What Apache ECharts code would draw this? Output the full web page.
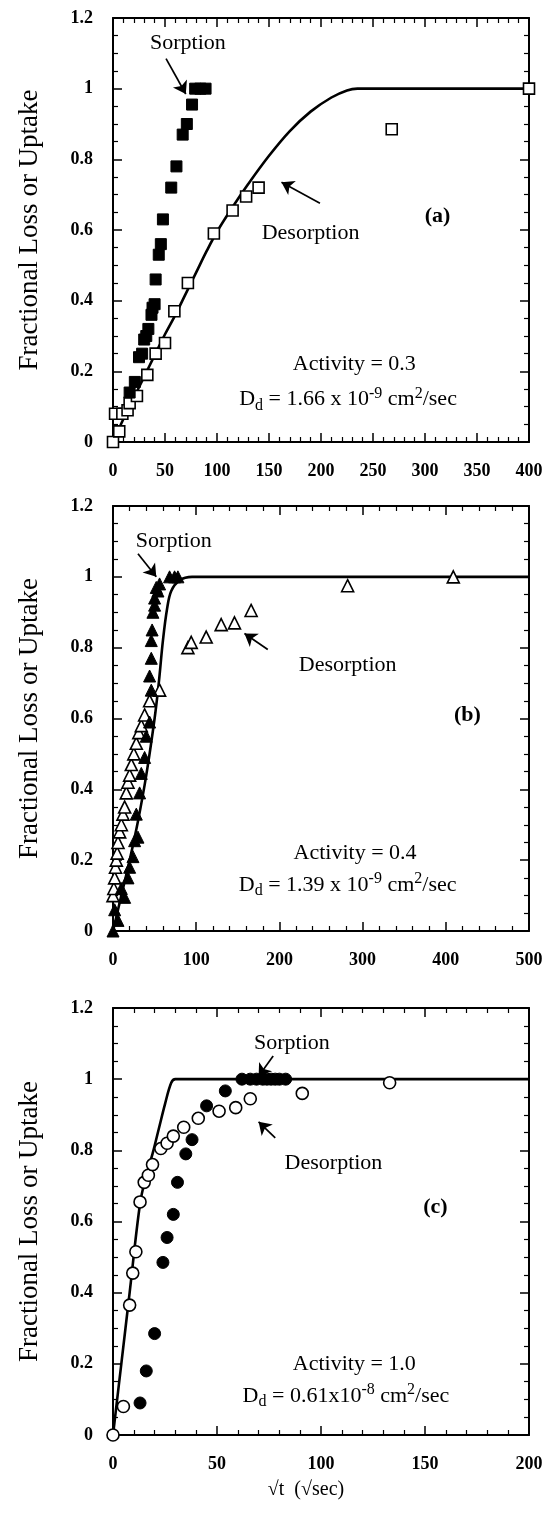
<!DOCTYPE html>
<html>
<head>
<meta charset="utf-8">
<script src="https://cdn.jsdelivr.net/npm/echarts@6/dist/echarts.min.js"></script>
<style>
  html, body { margin: 0; padding: 0; background: #fff; }
  #chart { width: 547px; height: 1516px; }
</style>
</head>
<body>
<div id="chart"></div>
<script>
// ---- Panel (a): activity 0.3, squares ----
const sorptionA = [[16,0.14],[21,0.17],[25,0.24],[28,0.25],[30,0.29],[32,0.3],[34,0.32],[37,0.36],[38,0.38],[40,0.39],
  [41,0.46],[44,0.53],[46,0.56],[48,0.63],[56,0.72],[61,0.78],[67,0.87],[71,0.9],[76,0.955],[79,1.0],[84,1.0],[89,1.0]];
const desorptionA = [[0,0],[2,0.08],[6,0.03],[9,0.08],[14,0.09],[16,0.11],[23,0.13],[33,0.19],[41,0.25],[50,0.28],
  [59,0.37],[72,0.45],[97,0.59],[115,0.655],[128,0.695],[140,0.72],[268,0.885],[400,1.0]];
const fitA = [[0,0],[10,0.065],[20,0.125],[30,0.185],[40,0.245],[50,0.305],[60,0.36],[70,0.42],[80,0.48],[90,0.54],
  [100,0.595],[115,0.665],[130,0.73],[150,0.81],[170,0.88],[190,0.935],[210,0.975],[225,0.995],[235,1.0],[400,1.0]];

// ---- Panel (b): activity 0.4, triangles ----
const sorptionB = [[0,0],[2,0.06],[6,0.03],[10,0.12],[14,0.095],[18,0.15],[20,0.18],[24,0.21],[26,0.255],[30,0.265],
  [28,0.33],[32,0.39],[34,0.445],[38,0.49],[40,0.55],[44,0.59],[46,0.68],[44,0.72],[46,0.77],[46,0.82],[47,0.85],
  [48,0.9],[50,0.92],[50,0.94],[52,0.97],[54,0.96],[56,0.98],[68,1.0],[74,1.0],[78,1.0]];
const desorptionB = [[0,0.1],[1,0.12],[2,0.15],[3,0.18],[4,0.2],[5,0.22],[6,0.25],[8,0.28],[10,0.3],[12,0.33],
  [14,0.35],[16,0.39],[18,0.42],[20,0.44],[22,0.47],[25,0.5],[28,0.53],[31,0.56],[34,0.58],[38,0.61],[44,0.65],
  [56,0.68],[90,0.8],[94,0.815],[112,0.83],[130,0.865],[146,0.87],[166,0.905],[282,0.975],[409,1.0]];
const fitB = [[0,0],[10,0.1],[20,0.2],[30,0.31],[40,0.44],[50,0.6],[55,0.7],[60,0.82],[65,0.91],[70,0.96],
  [80,0.99],[95,1.0],[500,1.0]];

// ---- Panel (c): activity 1.0, circles ----
const sorptionC = [[13,0.09],[16,0.18],[20,0.285],[24,0.485],[26,0.555],[29,0.62],[31,0.71],[35,0.79],[38,0.83],
  [45,0.925],[54,0.967],[62,1.0],[66,1.0],[69,1.0],[72,1.0],[74,1.0],[76,1.0],[78,1.0],[80,1.0],[83,1.0]];
const desorptionC = [[0,0],[5,0.08],[8,0.365],[9.5,0.455],[11,0.515],[13,0.655],[15,0.71],[17,0.73],[19,0.76],
  [23,0.805],[26,0.82],[29,0.84],[34,0.865],[41,0.89],[51,0.91],[59,0.92],[66,0.945],[91,0.96],[133,0.99]];
const fitC = [[0,0],[4,0.2],[8,0.4],[13,0.65],[16,0.73],[19,0.79],[22,0.86],[25,0.93],[28,0.99],[30,1.0],[200,1.0]];

// ---- Axis ranges and tick steps ----
const xMaxes = [400, 500, 200];
const xSteps = [50, 100, 50];

// ---- Annotation texts ----
const activityText = ['Activity = 0.3', 'Activity = 0.4', 'Activity = 1.0'];
const diffMantissa = ['1.66 x 10', '1.39 x 10', '0.61x10'];
const diffExponent = ['-9', '-9', '-8'];
const panelTags = ['(a)', '(b)', '(c)'];
const yTitle = 'Fractional Loss or Uptake';
const xTitle = '\u221At  (\u221Asec)';

const FONT = '"Liberation Serif", "Times New Roman", Times, serif';

// Layout of the three plotting frames (pixels)
const frames = [
  { top: 18, height: 424 },
  { top: 506, height: 425 },
  { top: 1008, height: 427 }
];
const LEFT = 113, RIGHT = 18;

// Annotation placement in data coordinates
const notes = [
  { sorp: [72, 1.13], sorpArrow: [[51, 1.085], [70, 0.985]],
    desorp: [190, 0.59], desorpArrow: [[199, 0.676], [162, 0.735]],
    tag: [312, 0.64], act: [232, 0.22], dd: [226, 0.12] },
  { sorp: [73, 1.1], sorpArrow: [[30, 1.065], [52, 1.0]],
    desorp: [282, 0.75], desorpArrow: [[186, 0.795], [158, 0.84]],
    tag: [426, 0.61], act: [291, 0.22], dd: [282, 0.13] },
  { sorp: [86, 1.1], sorpArrow: [[77, 1.065], [70, 1.008]],
    desorp: [106, 0.765], desorpArrow: [[78, 0.835], [70, 0.88]],
    tag: [155, 0.64], act: [116, 0.2], dd: [112, 0.11] }
];

const symbols = ['rect', 'triangle', 'circle'];
const symbolSizes = [11, 12, 12];
const sorptionSets = [sorptionA, sorptionB, sorptionC];
const desorptionSets = [desorptionA, desorptionB, desorptionC];
const fitSets = [fitA, fitB, fitC];

const chart = echarts.init(document.getElementById('chart'), null, { renderer: 'canvas' });

const grids = [], xAxes = [], yAxes = [], series = [];

const axisLine = { show: true, onZero: false, lineStyle: { color: '#000', width: 2 } };

frames.forEach((f, i) => {
  grids.push({ left: LEFT, right: RIGHT, top: f.top, height: f.height, containLabel: false });
  const xBase = {
    gridIndex: i, type: 'value', min: 0, max: xMaxes[i], interval: xSteps[i],
    axisLine, splitLine: { show: false },
    axisTick: { show: true, inside: true, length: 9, lineStyle: { color: '#000', width: 1.5 } },
    minorTick: { show: true, splitNumber: 5, length: 5, lineStyle: { color: '#000', width: 1.2 } },
    minorSplitLine: { show: false }
  };
  xAxes.push(Object.assign({}, xBase, {
    position: 'bottom',
    axisLabel: { show: true, margin: 20, color: '#000', fontFamily: FONT, fontWeight: 'bold', fontSize: 18 }
  }));
  xAxes.push(Object.assign({}, xBase, { position: 'top', axisLabel: { show: false } }));

  const yBase = {
    gridIndex: i, type: 'value', min: 0, max: 1.2, interval: 0.2,
    axisLine, splitLine: { show: false },
    axisTick: { show: true, inside: true, length: 9, lineStyle: { color: '#000', width: 1.5 } },
    minorTick: { show: true, splitNumber: 4, length: 5, lineStyle: { color: '#000', width: 1.2 } },
    minorSplitLine: { show: false }
  };
  yAxes.push(Object.assign({}, yBase, {
    position: 'left',
    axisLabel: { show: true, margin: 20, color: '#000', fontFamily: FONT, fontWeight: 'bold', fontSize: 18,
      formatter: v => String(Math.round(v * 10) / 10) }
  }));
  yAxes.push(Object.assign({}, yBase, { position: 'right', axisLabel: { show: false } }));

  const xi = 2 * i, yi = 2 * i;

  // model curve
  series.push({
    type: 'line', xAxisIndex: xi, yAxisIndex: yi, data: fitSets[i], smooth: 0.35,
    showSymbol: false, symbol: 'none', lineStyle: { color: '#000', width: 2.6 }, z: 2, silent: true
  });
  // desorption (open markers)
  series.push({
    type: 'scatter', xAxisIndex: xi, yAxisIndex: yi, data: desorptionSets[i],
    symbol: symbols[i], symbolSize: symbolSizes[i],
    itemStyle: { color: '#fff', borderColor: '#000', borderWidth: 1.6, opacity: 1 }, z: 3, silent: true
  });
  // sorption (filled markers)
  series.push({
    type: 'scatter', xAxisIndex: xi, yAxisIndex: yi, data: sorptionSets[i],
    symbol: symbols[i], symbolSize: symbolSizes[i],
    itemStyle: { color: '#000', borderColor: '#000', borderWidth: 1, opacity: 1 }, z: 4, silent: true
  });
  // pointer arrows
  series.push({
    type: 'lines', coordinateSystem: 'cartesian2d', xAxisIndex: xi, yAxisIndex: yi,
    symbol: ['none', 'arrow'], symbolSize: [0, 12],
    lineStyle: { color: '#000', width: 1.7, opacity: 1 },
    data: [{ coords: notes[i].sorpArrow }, { coords: notes[i].desorpArrow }], z: 5, silent: true
  });
});

chart.setOption({
  animation: false,
  backgroundColor: '#fff',
  grid: grids, xAxis: xAxes, yAxis: yAxes, series
});

// Text annotations placed from data coordinates
const graphics = [];
const txt = (x, y, text, size, weight) => ({
  type: 'text', x, y, z: 10,
  style: { text, fill: '#000', font: `${weight || 'normal'} ${size}px ${FONT}`, align: 'center', verticalAlign: 'middle' }
});

frames.forEach((f, i) => {
  const toPx = p => chart.convertToPixel({ xAxisIndex: 2 * i, yAxisIndex: 2 * i }, p);
  const n = notes[i];
  let p = toPx(n.sorp); graphics.push(txt(p[0], p[1], 'Sorption', 22));
  p = toPx(n.desorp); graphics.push(txt(p[0], p[1], 'Desorption', 22));
  p = toPx(n.tag); graphics.push(txt(p[0], p[1], panelTags[i], 22, 'bold'));
  p = toPx(n.act); graphics.push(txt(p[0], p[1], activityText[i], 22));
  p = toPx(n.dd);
  graphics.push({
    type: 'text', x: p[0], y: p[1], z: 10,
    style: {
      text: `{m|D}{s|d}{m| = ${diffMantissa[i]}}{p|${diffExponent[i]}}{m| cm}{p|2}{m|/sec}`,
      align: 'center', verticalAlign: 'middle', fill: '#000',
      rich: {
        m: { fontFamily: FONT, fontSize: 22, lineHeight: 28, fill: '#000', verticalAlign: 'middle' },
        s: { fontFamily: FONT, fontSize: 16, lineHeight: 16, fill: '#000', verticalAlign: 'bottom' },
        p: { fontFamily: FONT, fontSize: 16, lineHeight: 16, fill: '#000', verticalAlign: 'top' }
      }
    }
  });
  // rotated axis title for each frame
  graphics.push({
    type: 'text', x: 30, y: f.top + f.height / 2, rotation: Math.PI / 2, z: 10,
    style: { text: yTitle, fill: '#000', font: `normal 27px ${FONT}`, align: 'center', verticalAlign: 'middle' }
  });
});

graphics.push(txt(306, 1490, xTitle, 20));

chart.setOption({ graphic: graphics });
</script>
</body>
</html>
